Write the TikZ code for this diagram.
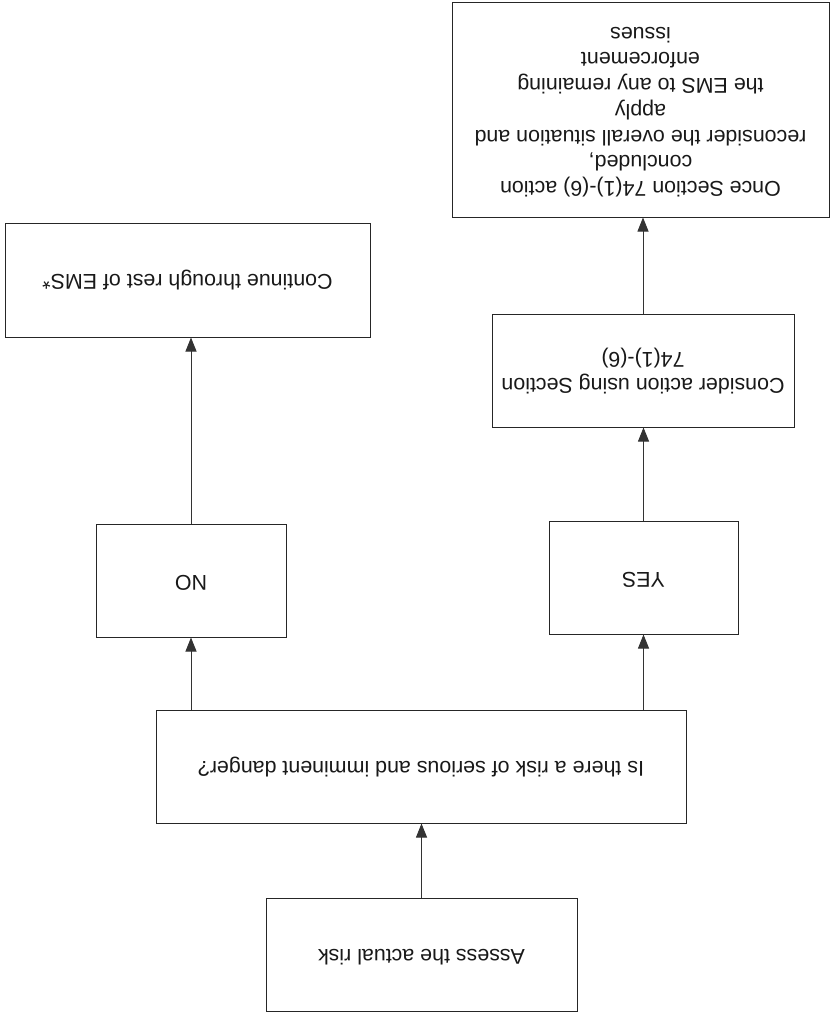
\documentclass[tikz,border=0pt]{standalone}
\usepackage{fontspec}
\usepackage{graphicx}
\setmainfont{Liberation Sans}
\usetikzlibrary{arrows.meta}

% the whole flowchart is printed turned half a turn: every label is set upside down
\newcommand{\flipped}[1]{\rotatebox[origin=c]{180}{\begin{tabular}{@{}c@{}}#1\end{tabular}}}

\tikzset{
  flowbox/.style={draw=black!85, line width=1pt, fill=white, inner sep=0pt,
    font=\fontsize{21.4}{25.7}\selectfont, text=black!90},
  flowarrow/.style={draw=black!80, line width=0.8pt,
    -{Triangle[length=14pt,width=11pt]}},
}

\begin{document}
\begin{tikzpicture}[x=1pt,y=-1pt]
  \useasboundingbox[fill=white] (0,0) rectangle (833,1021);

  \node[flowbox, minimum width=377pt, minimum height=215pt] (once) at (640.5,109.5)
    {\flipped{Once Section 74(1)-(6) action\\concluded,\\reconsider the overall situation and\\apply\\the EMS to any remaining\\enforcement\\issues}};
  \node[flowbox, minimum width=365pt, minimum height=114pt] (cont) at (187.5,280)
    {\flipped{Continue through rest of EMS*}};
  \node[flowbox, minimum width=302pt, minimum height=113pt] (cons) at (643,370.5)
    {\flipped{Consider action using Section\\74(1)-(6)}};
  \node[flowbox, minimum width=189pt, minimum height=113pt] (yes) at (643.5,577.5)
    {\flipped{YES}};
  \node[flowbox, minimum width=190pt, minimum height=113pt] (no) at (191,580.5)
    {\flipped{NO}};
  \node[flowbox, minimum width=530pt, minimum height=113pt] (is) at (421,766.5)
    {\flipped{Is there a risk of serious and imminent danger?}};
  \node[flowbox, minimum width=311pt, minimum height=113pt] (assess) at (421.5,954.5)
    {\flipped{Assess the actual risk}};

  \draw[flowarrow] (assess.north) -- (assess.north |- is.south);
  \draw[flowarrow] (is.north -| yes.south) -- (yes.south);
  \draw[flowarrow] (is.north -| no.south) -- (no.south);
  \draw[flowarrow] (yes.north) -- (yes.north |- cons.south);
  \draw[flowarrow] (cons.north) -- (cons.north |- once.south);
  \draw[flowarrow] (no.north) -- (no.north |- cont.south);
\end{tikzpicture}
\end{document}
